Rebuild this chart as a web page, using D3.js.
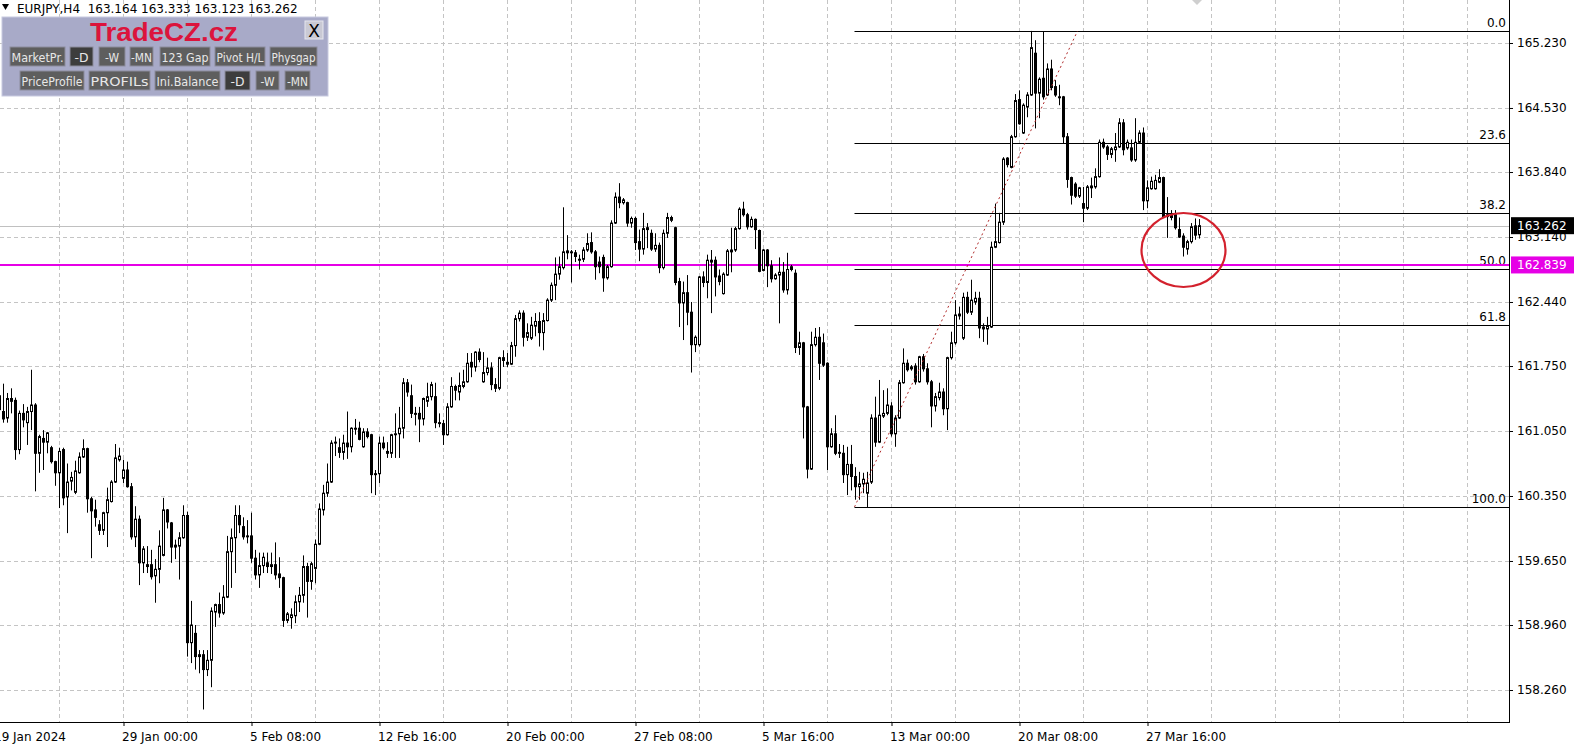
<!DOCTYPE html>
<html>
<head>
<meta charset="utf-8">
<script src="https://cdn.jsdelivr.net/npm/d3@7"></script>
<style>
  html, body { margin: 0; padding: 0; background: #fff; overflow: hidden; }
  svg { display: block; }
</style>
</head>
<body>
<svg id="chart" width="1576" height="755" font-family="DejaVu Sans, sans-serif" font-size="12"></svg>
<script>
// EURJPY H4 candles (bar 0 = leftmost, partly hidden)
const open = [
  161.28,161.26,161.19,161.40,161.38,160.85,161.24,161.14,161.26,161.33,
  160.81,160.97,160.93,160.87,160.72,160.60,160.85,160.34,160.51,160.39,
  160.60,160.77,160.86,160.32,160.20,160.04,159.98,160.17,160.29,160.50,
  160.74,160.54,160.63,160.45,159.91,160.10,159.63,159.61,159.61,159.49,
  159.56,159.71,160.20,160.06,159.82,159.81,159.90,160.14,158.77,158.87,
  158.64,158.64,158.48,158.58,159.10,159.18,159.09,159.26,159.75,159.90,
  160.14,160.02,159.92,159.92,159.68,159.50,159.60,159.63,159.59,159.61,
  159.51,159.47,159.01,159.04,159.06,159.21,159.28,159.59,159.43,159.57,
  159.83,160.20,160.38,160.50,160.93,160.87,160.82,160.92,160.88,161.08,
  161.08,160.88,161.04,161.01,160.59,160.59,160.92,160.83,160.81,161.01,
  161.02,161.08,161.57,161.43,161.24,161.24,161.18,161.37,161.42,161.42,
  161.14,161.13,161.01,161.31,161.53,161.47,161.53,161.58,161.79,161.74,
  161.90,161.58,161.68,161.73,161.55,161.51,161.84,161.79,161.77,161.97,
  162.26,162.32,162.06,162.05,162.18,162.23,162.11,162.24,162.46,162.62,
  162.74,162.81,162.99,162.98,162.97,162.90,162.90,163.00,163.08,162.98,
  162.87,162.92,162.70,162.82,163.29,163.57,163.51,163.51,163.29,163.34,
  163.09,163.01,163.24,163.18,163.01,163.05,162.81,163.18,163.32,163.24,
  162.66,162.43,162.54,162.33,161.98,161.98,162.71,162.65,162.89,162.89,
  162.72,162.53,162.73,163.00,163.00,163.23,163.44,163.38,163.25,163.33,
  163.21,162.78,163.00,162.83,162.69,162.73,162.76,162.57,162.79,162.75,
  161.95,162.00,161.31,160.64,161.98,162.06,162.00,161.78,160.88,161.02,
  160.82,160.81,160.58,160.69,160.56,160.45,160.48,160.38,160.50,161.19,
  160.93,161.21,161.24,161.32,161.02,161.19,161.57,161.78,161.72,161.75,
  161.58,161.85,161.72,161.58,161.32,161.41,161.47,161.29,161.84,162.00,
  162.31,162.05,162.49,162.33,162.44,162.48,162.17,162.15,162.17,163.03,
  163.08,163.30,163.99,163.89,164.22,164.62,164.26,164.54,164.67,165.12,
  164.69,164.85,164.67,164.95,164.76,164.65,164.65,164.22,163.78,163.71,
  163.58,163.50,163.45,163.67,163.68,163.79,164.16,164.11,164.03,164.08,
  164.11,164.37,164.10,164.10,163.97,164.16,164.26,163.53,163.66,163.66,
  163.73,163.78,163.36,163.38,163.38,163.22,163.15,163.01,163.09,163.26,
  163.164
];
const high = [
  161.55,161.56,161.46,161.51,161.41,161.27,161.34,161.31,161.71,161.35,
  161.01,161.06,161.04,160.89,160.73,160.87,160.87,160.70,160.61,160.73,
  160.82,160.96,160.87,160.34,160.31,160.09,160.18,160.44,160.52,160.91,
  160.87,160.74,160.72,160.49,160.24,160.14,159.81,159.81,159.77,159.67,
  159.98,160.33,160.21,160.07,159.88,159.96,160.25,160.18,159.22,158.96,
  158.69,158.69,158.69,159.15,159.19,159.31,159.39,159.92,160.00,160.25,
  160.25,160.12,160.09,160.17,159.77,159.74,159.74,159.74,159.74,159.85,
  159.69,159.48,159.10,159.14,159.28,159.37,159.71,159.63,159.64,159.88,
  160.27,160.47,160.70,160.95,160.99,160.97,161.01,161.26,161.09,161.18,
  161.15,161.08,161.08,161.02,160.63,160.99,160.99,160.93,161.02,161.24,
  161.31,161.62,161.61,161.55,161.31,161.31,161.41,161.57,161.58,161.57,
  161.24,161.17,161.35,161.63,161.55,161.68,161.71,161.89,161.89,161.91,
  161.94,161.90,161.84,161.79,161.62,161.85,161.92,161.89,162.01,162.30,
  162.35,162.35,162.21,162.28,162.32,162.33,162.32,162.48,162.65,162.92,
  162.93,163.46,163.16,163.00,163.00,162.95,163.03,163.18,163.19,163.00,
  162.93,162.95,162.84,163.32,163.62,163.72,163.56,163.52,163.36,163.36,
  163.22,163.40,163.29,163.22,163.18,163.08,163.22,163.40,163.37,163.25,
  162.70,162.66,162.73,162.44,162.08,162.72,162.77,162.95,163.00,162.93,
  162.79,162.76,163.01,163.24,163.25,163.46,163.52,163.40,163.36,163.34,
  163.22,163.01,163.01,162.89,162.75,162.92,162.87,162.97,162.84,162.79,
  162.12,162.01,161.32,162.12,162.16,162.17,162.10,161.79,161.08,161.22,
  160.91,160.90,160.88,160.90,160.66,160.61,160.60,160.61,161.23,161.42,
  161.60,161.49,161.51,161.36,161.22,161.60,161.94,161.82,161.76,161.78,
  161.86,161.88,161.78,161.60,161.46,161.57,161.51,161.85,162.12,162.46,
  162.39,162.54,162.55,162.68,162.55,162.55,162.21,162.28,163.09,163.50,
  163.40,164.00,164.00,164.24,164.68,164.72,164.58,164.70,165.36,165.26,
  164.86,165.35,165.01,165.05,164.83,164.78,164.66,164.26,163.79,163.73,
  163.68,163.68,163.70,163.78,163.88,164.19,164.20,164.13,164.11,164.26,
  164.42,164.41,164.19,164.19,164.42,164.29,164.32,163.75,163.79,163.81,
  163.87,163.79,163.57,163.43,163.43,163.35,163.18,163.11,163.29,163.34,
  163.333
];
const low = [
  161.17,161.14,161.14,161.24,160.74,160.80,161.09,160.90,161.06,160.40,
  160.60,160.63,160.81,160.70,160.46,160.22,160.25,159.95,160.41,160.37,
  160.59,160.76,160.17,159.68,160.02,159.93,159.93,159.80,160.28,160.49,
  160.72,160.49,160.44,159.88,159.80,159.39,159.52,159.52,159.45,159.20,
  159.41,159.70,160.00,159.63,159.67,159.45,159.89,158.62,158.55,158.48,
  158.44,158.05,158.41,158.29,158.94,159.04,159.07,159.25,159.36,159.52,
  159.95,159.88,159.84,159.63,159.45,159.36,159.52,159.52,159.51,159.45,
  159.36,158.94,158.98,158.92,158.98,159.10,159.20,159.04,159.34,159.41,
  159.82,160.14,160.34,160.49,160.78,160.76,160.74,160.75,160.82,161.01,
  160.95,160.87,160.97,160.38,160.36,160.49,160.85,160.76,160.76,160.76,
  160.76,160.97,161.42,161.19,161.11,160.93,161.11,161.31,161.38,161.08,
  161.09,160.90,161.00,161.30,161.38,161.38,161.51,161.57,161.63,161.69,
  161.79,161.57,161.65,161.49,161.47,161.49,161.74,161.74,161.76,161.85,
  162.23,161.96,162.02,162.03,162.07,161.96,161.92,162.23,162.44,162.46,
  162.68,162.79,162.90,162.65,162.87,162.79,162.87,162.98,162.96,162.68,
  162.75,162.55,162.68,162.81,163.28,163.45,163.49,163.25,163.24,163.00,
  162.88,162.95,163.02,162.99,162.98,162.75,162.79,163.13,163.30,162.62,
  162.17,162.03,162.19,161.68,161.90,161.96,162.60,162.48,162.32,162.50,
  162.62,162.52,162.72,162.76,162.98,163.22,163.36,163.22,163.24,163.01,
  162.76,162.77,162.60,162.65,162.68,162.21,162.54,162.52,162.77,161.89,
  161.87,160.97,160.54,160.63,161.96,161.60,161.74,160.63,160.87,160.79,
  160.76,160.49,160.36,160.41,160.31,160.31,160.38,160.23,160.48,160.88,
  160.92,161.19,161.22,160.99,160.88,161.18,161.56,161.69,161.70,161.55,
  161.57,161.69,161.55,161.09,161.26,161.38,161.22,161.06,161.82,161.98,
  162.25,162.03,162.31,162.30,162.41,162.05,162.01,161.98,162.16,163.02,
  163.07,163.27,163.89,163.88,164.21,164.35,164.25,164.43,164.66,164.31,
  164.42,164.62,164.66,164.72,164.65,164.56,164.15,163.67,163.49,163.56,
  163.56,163.30,163.43,163.56,163.66,163.78,164.09,163.97,163.99,163.95,
  164.10,164.02,164.08,163.95,163.95,164.15,163.43,163.45,163.65,163.65,
  163.72,163.35,163.13,163.32,163.22,163.13,162.93,162.95,163.07,163.11,
  163.123
];
const close = [
  161.43,161.18,161.40,161.37,160.85,161.24,161.17,161.26,161.33,160.81,
  160.99,160.93,161.03,160.72,160.60,160.83,160.33,160.50,160.55,160.62,
  160.77,160.86,160.32,160.19,160.12,159.98,160.17,160.31,160.50,160.76,
  160.78,160.63,160.45,159.91,160.10,159.63,159.78,159.59,159.48,159.56,
  159.81,160.20,160.07,159.80,159.80,159.90,160.14,158.77,158.96,158.62,
  158.62,158.48,158.58,159.11,159.18,159.09,159.26,159.75,159.90,160.14,
  160.04,159.91,159.91,159.68,159.50,159.60,159.69,159.59,159.61,159.50,
  159.47,159.01,159.08,159.07,159.21,159.28,159.59,159.43,159.62,159.83,
  160.21,160.38,160.50,160.92,160.92,160.82,160.92,160.88,161.08,161.07,
  160.96,161.04,160.99,160.58,160.58,160.92,160.87,160.81,161.01,161.02,
  161.08,161.57,161.47,161.24,161.23,161.18,161.40,161.42,161.55,161.14,
  161.13,161.01,161.31,161.53,161.49,161.54,161.58,161.78,161.74,161.90,
  161.82,161.68,161.73,161.55,161.51,161.84,161.81,161.77,161.97,162.26,
  162.32,162.06,162.11,162.19,162.23,162.11,162.24,162.46,162.62,162.74,
  162.82,162.98,162.97,162.97,162.93,162.89,163.00,163.07,162.98,162.82,
  162.82,162.70,162.82,163.29,163.57,163.51,163.54,163.29,163.34,163.08,
  163.01,163.23,163.22,163.01,163.05,162.81,163.18,163.35,163.35,162.65,
  162.43,162.54,162.33,161.98,162.06,162.71,162.65,162.89,162.87,162.71,
  162.66,162.74,162.99,162.98,163.23,163.44,163.38,163.25,163.33,163.22,
  162.77,163.00,162.83,162.69,162.73,162.76,162.57,162.79,162.82,161.95,
  162.00,161.31,160.64,161.98,162.06,161.78,161.76,160.88,161.02,160.81,
  160.81,160.58,160.69,160.56,160.45,160.48,160.53,160.49,161.19,160.93,
  161.22,161.24,161.33,161.02,161.19,161.57,161.78,161.71,161.74,161.58,
  161.85,161.72,161.58,161.32,161.42,161.47,161.29,161.84,162.00,162.30,
  162.29,162.49,162.33,162.46,162.48,162.16,162.15,162.18,163.03,163.09,
  163.30,163.98,163.92,164.22,164.61,164.36,164.56,164.67,165.18,164.69,
  164.84,164.65,164.95,164.75,164.67,164.64,164.22,163.76,163.59,163.58,
  163.67,163.45,163.68,163.69,163.79,164.16,164.11,164.03,164.09,164.11,
  164.37,164.08,164.16,163.97,164.16,164.26,163.53,163.67,163.74,163.75,
  163.78,163.36,163.38,163.35,163.24,163.14,163.03,163.09,163.25,163.16,
  163.262
];

// price axis ticks and bottom time labels (bar index of each label)
const priceTicks = [165.230, 164.530, 163.840, 163.140, 162.440, 161.750, 161.050, 160.350, 159.650, 158.960, 158.260];
const dateIdx = [-1, 31, 63, 95, 127, 159, 191, 223, 255, 287];
const dateText = ["19 Jan 2024", "29 Jan 00:00", "5 Feb 08:00", "12 Feb 16:00", "20 Feb 00:00",
                  "27 Feb 08:00", "5 Mar 16:00", "13 Mar 00:00", "20 Mar 08:00", "27 Mar 16:00"];

// fibonacci retracement drawn from the swing low to the swing high
const fibLow = 160.232, fibHigh = 165.359;
const fibStartIdx = 213, fibEndIdx = 269.5;
const fibLevels = [0, 23.6, 38.2, 50, 61.8, 100];

const levelPrice = 162.839;   // magenta horizontal line
const bidPrice = 163.262;     // last price
const header = "EURJPY,H4  163.164 163.333 163.123 163.262";

const svg = d3.select("#chart");
const plotRight = 1509, plotBottom = 722;

// 4 px per bar
const x = d3.scaleLinear().domain([0, 1]).range([-0.5, 3.5]);
const y = d3.scaleLinear().domain([158.26, 165.23]).range([690, 43]);

svg.append("defs").append("clipPath").attr("id", "clip")
  .append("rect").attr("x", 0).attr("y", 0).attr("width", plotRight).attr("height", plotBottom);

// grid
const grid = svg.append("g");
const vIdx = d3.range(15, 400, 16).filter(i => x(i) < plotRight);
grid.selectAll("line.v").data(vIdx).join("line")
  .attr("x1", d => Math.round(x(d)) - 0.5).attr("x2", d => Math.round(x(d)) - 0.5)
  .attr("y1", 0).attr("y2", plotBottom)
  .attr("stroke", "#c4c4c4").attr("stroke-dasharray", "4,3");
grid.selectAll("line.h").data(priceTicks).join("line")
  .attr("x1", 0).attr("x2", plotRight)
  .attr("y1", d => Math.round(y(d)) + 0.5).attr("y2", d => Math.round(y(d)) + 0.5)
  .attr("stroke", "#c4c4c4").attr("stroke-dasharray", "4,3");

// bid line
svg.append("line").attr("x1", 0).attr("x2", plotRight)
  .attr("y1", Math.round(y(bidPrice)) + 0.5).attr("y2", Math.round(y(bidPrice)) + 0.5)
  .attr("stroke", "#c0c0c0");

// fibonacci lines
const fib = svg.append("g");
const fibData = fibLevels.map(r => ({ r, p: fibHigh - (fibHigh - fibLow) * r / 100 }));
fib.selectAll("line").data(fibData).join("line")
  .attr("x1", x(fibStartIdx) + 3).attr("x2", plotRight)
  .attr("y1", d => Math.round(y(d.p)) + 0.5).attr("y2", d => Math.round(y(d.p)) + 0.5)
  .attr("stroke", "#000");
fib.selectAll("text").data(fibData).join("text")
  .attr("x", 1506).attr("y", d => y(d.p) - 4)
  .attr("text-anchor", "end").attr("fill", "#000")
  .text(d => d.r.toFixed(1));

// magenta level
svg.append("line").attr("x1", 0).attr("x2", plotRight)
  .attr("y1", y(levelPrice)).attr("y2", y(levelPrice))
  .attr("stroke", "#e600e6").attr("stroke-width", 2);

// candles
const bars = d3.range(open.length).map(i => ({ i, o: open[i], h: high[i], l: low[i], c: close[i] }));
const cg = svg.append("g").attr("clip-path", "url(#clip)");
cg.selectAll("line").data(bars).join("line")
  .attr("x1", d => x(d.i)).attr("x2", d => x(d.i))
  .attr("y1", d => y(d.h)).attr("y2", d => y(d.l))
  .attr("stroke", "#000");
cg.selectAll("rect").data(bars).join("rect")
  .attr("x", d => x(d.i) - 1).attr("width", 2)
  .attr("y", d => y(Math.max(d.o, d.c)))
  .attr("height", d => Math.max(0.5, Math.abs(y(d.o) - y(d.c))))
  .attr("fill", d => d.c >= d.o ? "#fff" : "#000")
  .attr("stroke", "#000");

// dotted fib trend line
svg.append("line")
  .attr("x1", x(fibStartIdx) + 3).attr("y1", y(fibLow))
  .attr("x2", x(fibEndIdx)).attr("y2", y(fibHigh))
  .attr("stroke", "#b02a2a").attr("stroke-dasharray", "2,3");

// red ellipse around the last bars
svg.append("ellipse")
  .attr("cx", x(296)).attr("cy", y(163.0)).attr("rx", 42).attr("ry", 37)
  .attr("fill", "none").attr("stroke", "#d3212d").attr("stroke-width", 2.2);

// frame
svg.append("line").attr("x1", plotRight + 0.5).attr("x2", plotRight + 0.5)
  .attr("y1", 0).attr("y2", plotBottom).attr("stroke", "#000");
svg.append("line").attr("x1", 0).attr("x2", plotRight + 1)
  .attr("y1", plotBottom + 0.5).attr("y2", plotBottom + 0.5).attr("stroke", "#000");

// right price axis
const ya = svg.append("g").attr("transform", `translate(${plotRight},0)`)
  .call(d3.axisRight(y).tickValues(priceTicks).tickFormat(d3.format(".3f")).tickSize(4).tickPadding(4));
ya.attr("font-family", null).attr("font-size", null);
ya.select(".domain").remove();
ya.selectAll("text").attr("fill", "#000");

// bottom time axis
const xa = svg.append("g").attr("transform", `translate(0,${plotBottom})`)
  .call(d3.axisBottom(x).tickValues(dateIdx).tickFormat((d, i) => dateText[i]).tickSize(4).tickPadding(4));
xa.attr("font-family", null).attr("font-size", null);
xa.select(".domain").remove();
xa.selectAll("text").attr("fill", "#000")
  .attr("text-anchor", "start").attr("x", -2).attr("dy", "0.9em");

// price labels on the axis
function priceBox(p, fill) {
  const cy = y(p);
  svg.append("rect").attr("x", plotRight + 2).attr("y", cy - 8.5).attr("width", 63).attr("height", 17).attr("fill", fill);
  svg.append("text").attr("x", 1517).attr("y", cy + 4.5).attr("fill", "#fff").text(p.toFixed(3));
}
priceBox(bidPrice, "#000");
priceBox(levelPrice, "#e600e6");

// small marker at the top
svg.append("path").attr("d", "M1192,0 L1202,0 L1197,5 Z").attr("fill", "#cfcfcf");

// header line
svg.append("path").attr("d", "M2,4 L9,4 L5.5,10 Z").attr("fill", "#000");
svg.append("text").attr("x", 17).attr("y", 13).style("white-space", "pre").text(header);

// TradeCZ panel
const panel = svg.append("g");
panel.append("rect").attr("x", 2).attr("y", 17).attr("width", 326).attr("height", 79)
  .attr("fill", "#a8aac8").attr("stroke", "#c8cae0");
panel.append("text").attr("x", 164).attr("y", 41).attr("text-anchor", "middle")
  .attr("font-family", "Liberation Sans, Arial, sans-serif").attr("font-weight", "bold")
  .attr("font-size", 26).attr("textLength", 148).attr("lengthAdjust", "spacingAndGlyphs")
  .attr("fill", "#dc143c").text("TradeCZ.cz");
panel.append("rect").attr("x", 305).attr("y", 21).attr("width", 18).attr("height", 18)
  .attr("fill", "#c9c9d4").attr("stroke", "#e6e6ee");
panel.append("text").attr("x", 314).attr("y", 37).attr("text-anchor", "middle")
  .attr("font-size", 17).attr("fill", "#000").text("X");

const buttons = [
  { t: "MarketPr.", x: 10, w: 55, r: 0 }, { t: "-D", x: 70, w: 23, r: 0, on: true },
  { t: "-W", x: 99, w: 26, r: 0 }, { t: "-MN", x: 130, w: 23, r: 0 },
  { t: "123 Gap", x: 160, w: 50, r: 0 }, { t: "Pivot H/L", x: 215, w: 50, r: 0 },
  { t: "Physgap", x: 270, w: 47, r: 0 },
  { t: "PriceProfile", x: 20, w: 64, r: 1 }, { t: "PROFILs", x: 89, w: 61, r: 1 },
  { t: "Ini.Balance", x: 155, w: 65, r: 1 }, { t: "-D", x: 225, w: 25, r: 1, on: true },
  { t: "-W", x: 256, w: 23, r: 1 }, { t: "-MN", x: 285, w: 25, r: 1 }
];
const bg = panel.selectAll("g.btn").data(buttons).join("g");
bg.append("rect")
  .attr("x", d => d.x).attr("y", d => d.r ? 71 : 47).attr("width", d => d.w).attr("height", 19)
  .attr("fill", d => d.on ? "#3d3d3d" : "#5e5e5e").attr("stroke", "#8c8c9c");
bg.append("text")
  .attr("x", d => d.x + d.w / 2).attr("y", d => (d.r ? 71 : 47) + 14.5)
  .attr("text-anchor", "middle").attr("font-size", 13).attr("fill", "#e8e8e8")
  .attr("textLength", d => d.t.length > 3 ? d.w - 3 : d.t.length * 7)
  .attr("lengthAdjust", "spacingAndGlyphs")
  .text(d => d.t);
</script>
</body>
</html>
